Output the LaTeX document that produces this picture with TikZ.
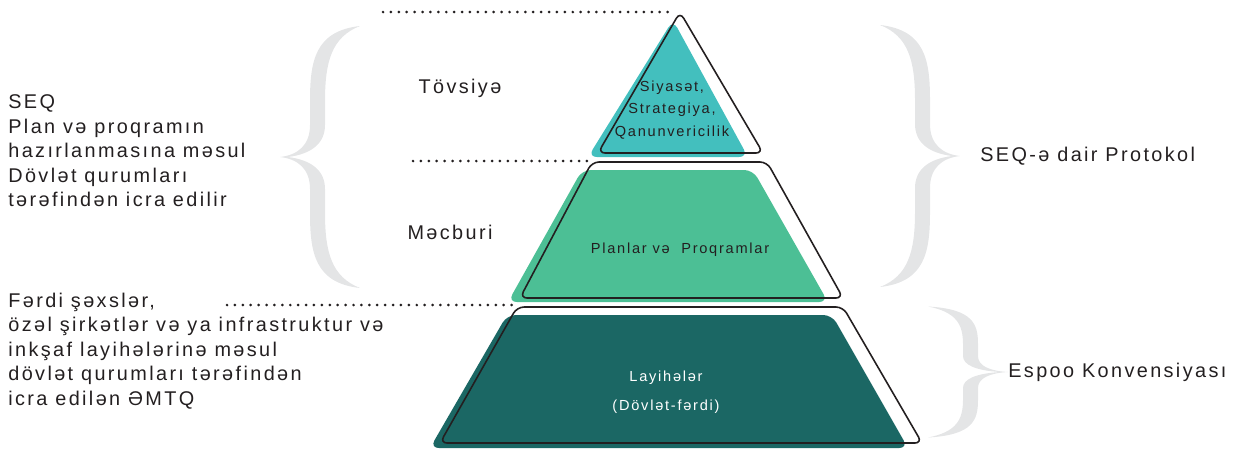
\documentclass[tikz,border=0pt]{standalone}
\usepackage{fontspec}
\setmainfont{Liberation Sans}
\newfontfamily\lblfont[LetterSpace=12]{Liberation Sans}
\usetikzlibrary{positioning}
\definecolor{ink}{HTML}{231F20}
\definecolor{topc}{HTML}{43BFBE}
\definecolor{midc}{HTML}{4CBF95}
\definecolor{lowc}{HTML}{1B6764}
\definecolor{braceg}{HTML}{E4E5E6}
\tikzset{
  lbl/.style={font=\lblfont\fontsize{11.3}{13.9}\selectfont, text=ink, align=left, inner sep=0pt},
  inlbl/.style={font=\lblfont\fontsize{8.3}{12.8}\selectfont, text=ink, align=center, inner sep=0pt},
  outline/.style={draw=ink, line width=0.9pt, rounded corners=4pt},
  dots/.style={draw=ink, line width=1.7pt, line cap=round, dash pattern=on 0pt off 4.5pt},
  curly/.pic={
    \fill[braceg] (0,-131) .. controls (45,-126) and (50,-96) .. (50,-56) -- (50,-32)
      .. controls (50,-12) and (62,-2) .. (80,0) .. controls (62,2) and (50,12) .. (50,32)
      -- (50,56) .. controls (50,96) and (45,126) .. (0,131)
      .. controls (28,120) and (35,96) .. (35,56) -- (35,32)
      .. controls (35,14) and (48,3) .. (72,0) .. controls (48,-3) and (35,-14) .. (35,-32)
      -- (35,-56) .. controls (35,-96) and (28,-120) .. (0,-131) -- cycle;
  }
}

\begin{document}
\begin{tikzpicture}[x=0.02cm,y=-0.02cm]
\useasboundingbox (0,0) rectangle (1244,450);

% braces
\begin{scope}[shift={(360,157)},xscale=-1]
  \pic[transform shape] {curly};
\end{scope}
\begin{scope}[shift={(880,156)}]
  \pic[transform shape] {curly};
\end{scope}
\begin{scope}[shift={(928,372)},yscale=0.5]
  \pic[transform shape] {curly};
\end{scope}

% pyramid
\fill[topc, rounded corners=5pt] (673,20) -- (748,157) -- (588,157) -- cycle;
\fill[midc, rounded corners=5pt] (582,170) -- (753,170) -- (828,302) -- (508,302) -- cycle;
\fill[lowc, rounded corners=5pt] (507,315) -- (832,315) -- (908,448) -- (430,448) -- cycle;
\draw[outline] (680,12) -- (763,153) -- (598,153) -- cycle;
\draw[outline] (592,162) -- (767,162) -- (843,298) -- (520,298) -- cycle;
\draw[outline] (517,307) -- (843,307) -- (922,443) -- (440,443) -- cycle;

% dotted levels
\coordinate (d1a) at (383,12);
\coordinate (d1b) at (672,12);
\coordinate (d2a) at (413,161);
\coordinate (d2b) at (588,161);
\coordinate (d3a) at (227,305);
\coordinate (d3b) at (512,305);
\draw[dots] (d1a) -- (d1b);
\draw[dots] (d2a) -- (d2b);
\draw[dots] (d3a) -- (d3b);

% texts in the pyramid
\node[inlbl] (policy) at (672,110) {Siyasət,\\Strategiya,\\Qanunvericilik};
\node[inlbl] (plans) at (680,250) {Planlar və\ \ Proqramlar};
\node[inlbl, text=white, font=\lblfont\fontsize{8.3}{16.4}\selectfont] (projects) at (666,392) {Layihələr\\(Dövlət-fərdi)};

% level names
\node[lbl] (advice) at (460,88) {Tövsiyə};
\node[lbl] (mandatory) at (450,232) {Məcburi};

% left notes
\node[lbl, anchor=west] (seqnote) at (8,151) {SEQ\\Plan və proqramın\\hazırlanmasına məsul\\Dövlət qurumları\\tərəfindən icra edilir};
\node[lbl, anchor=west] (eianote) at (8,351) {Fərdi şəxslər,\\özəl şirkətlər və ya infrastruktur və\\inkşaf layihələrinə məsul\\dövlət qurumları tərəfindən\\icra edilən ƏMTQ};

% right notes
\coordinate (tipa) at (958,156);
\coordinate (tipb) at (1006,372);
\node[lbl, right=0.44cm of tipa] (protocol) {SEQ-ə dair Protokol};
\node[lbl, right=0.04cm of tipb] (espoo) {Espoo Konvensiyası};
\end{tikzpicture}
\end{document}
